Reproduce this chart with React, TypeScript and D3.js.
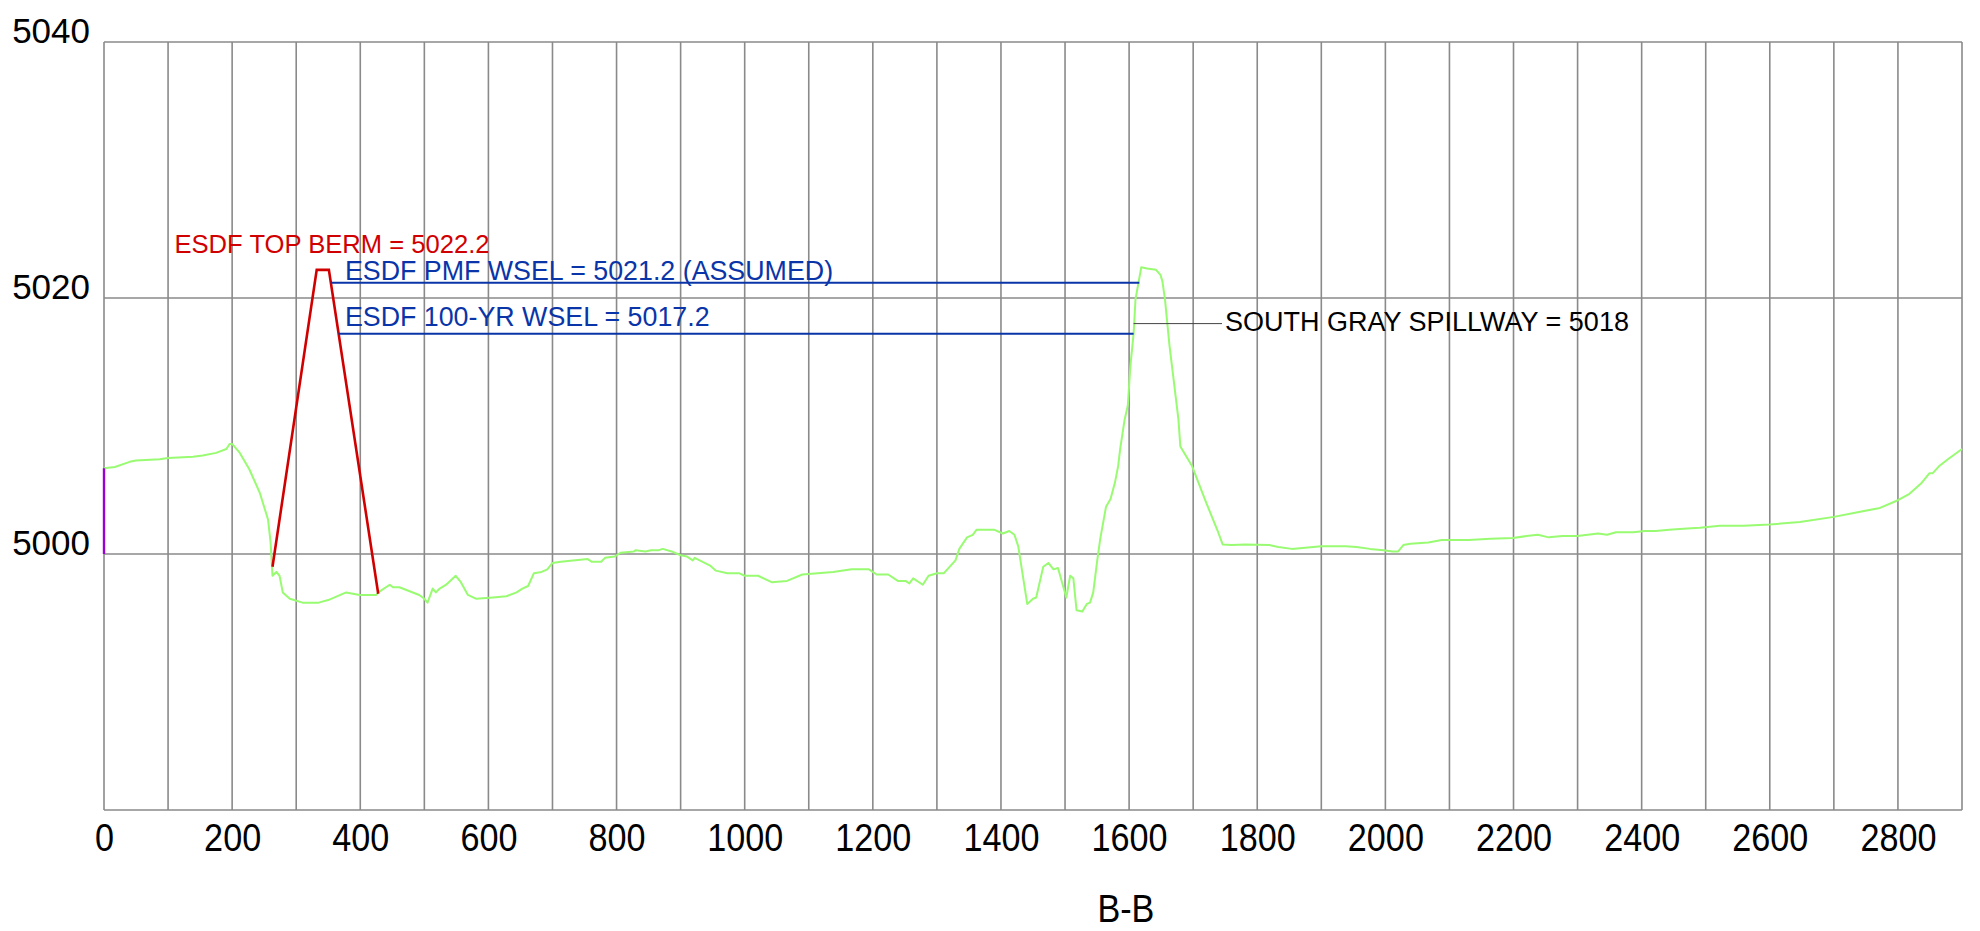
import React, { useEffect, useRef } from 'react';
import * as d3 from 'd3';

// ground profile along section B-B (station, elevation)
const stations = [
	0, 17, 40, 50, 87, 100, 139, 154, 175, 191, 196, 200, 212, 227, 243, 256, 260, 263, 269, 274,
	279, 290, 310, 335, 350, 378, 399, 425, 428, 446, 451, 461, 492, 500, 505, 513, 518, 524, 534, 549,
	557, 568, 581, 607, 628, 644, 653, 662, 671, 683, 692, 700, 713, 755, 761, 776, 782, 797, 806, 827,
	830, 845, 854, 866, 872, 886, 900, 910, 919, 922, 946, 955, 973, 991, 1000, 1021, 1042, 1066, 1090, 1114,
	1138, 1167, 1194, 1206, 1224, 1239, 1251, 1257, 1263, 1278, 1287, 1300, 1311, 1329, 1335, 1347, 1356, 1362, 1389, 1403,
	1413, 1421, 1427, 1441, 1450, 1455, 1466, 1474, 1482, 1489, 1502, 1508, 1513, 1518, 1527, 1534, 1539, 1544, 1550, 1555,
	1564, 1571, 1578, 1583, 1586, 1593, 1598, 1602, 1607, 1610, 1615, 1619, 1628, 1642, 1649, 1652, 1656, 1663, 1670, 1677,
	1680, 1698, 1718, 1739, 1746, 1760, 1781, 1819, 1833, 1854, 1900, 1938, 1955, 1976, 1997, 2011, 2020, 2028, 2039, 2067,
	2088, 2130, 2164, 2199, 2220, 2238, 2255, 2276, 2300, 2332, 2346, 2360, 2387, 2405, 2422, 2443, 2471, 2491, 2522, 2559,
	2600, 2647, 2700, 2735, 2772, 2800, 2818, 2836, 2849, 2854, 2865, 2878, 2900,
];
const elevations = [
	5006.7, 5006.8, 5007.2, 5007.3, 5007.4, 5007.5, 5007.6, 5007.7, 5007.9, 5008.2, 5008.6, 5008.6, 5007.9, 5006.6, 5004.8, 5002.7, 5000.9, 4998.3, 4998.6, 4998.3,
	4997.0, 4996.5, 4996.2, 4996.2, 4996.4, 4997.0, 4996.8, 4996.8, 4997.0, 4997.6, 4997.4, 4997.4, 4996.8, 4996.5, 4996.2, 4997.3, 4997.0, 4997.3, 4997.6, 4998.3,
	4997.8, 4996.8, 4996.5, 4996.6, 4996.7, 4997.0, 4997.3, 4997.5, 4998.5, 4998.6, 4998.8, 4999.3, 4999.4, 4999.6, 4999.4, 4999.4, 4999.7, 4999.8, 5000.1, 5000.2,
	5000.3, 5000.2, 5000.3, 5000.3, 5000.4, 5000.2, 4999.9, 4999.8, 4999.5, 4999.7, 4999.1, 4998.7, 4998.5, 4998.5, 4998.3, 4998.3, 4997.8, 4997.9, 4998.4, 4998.5,
	4998.6, 4998.8, 4998.8, 4998.4, 4998.4, 4997.9, 4997.9, 4997.7, 4998.1, 4997.6, 4998.3, 4998.5, 4998.5, 4999.5, 5000.4, 5001.3, 5001.5, 5001.9, 5001.9, 5001.6,
	5001.8, 5001.5, 5000.6, 4996.1, 4996.5, 4996.6, 4999.0, 4999.3, 4998.8, 4998.9, 4996.6, 4998.3, 4998.1, 4995.6, 4995.5, 4996.1, 4996.2, 4997.0, 4999.4, 5001.2,
	5003.7, 5004.3, 5005.6, 5006.9, 5008.2, 5010.5, 5011.6, 5014.7, 5017.2, 5019.9, 5021.3, 5022.4, 5022.3, 5022.2, 5021.8, 5021.3, 5019.9, 5016.3, 5013.4, 5010.5,
	5008.4, 5006.9, 5004.3, 5001.7, 5000.75, 5000.7, 5000.75, 5000.7, 5000.55, 5000.4, 5000.6, 5000.6, 5000.55, 5000.4, 5000.3, 5000.2, 5000.2, 5000.7, 5000.8, 5000.9,
	5001.1, 5001.1, 5001.2, 5001.25, 5001.4, 5001.5, 5001.3, 5001.4, 5001.4, 5001.6, 5001.5, 5001.7, 5001.7, 5001.8, 5001.8, 5001.9, 5002.0, 5002.05, 5002.2, 5002.2,
	5002.3, 5002.5, 5002.9, 5003.25, 5003.6, 5004.2, 5004.7, 5005.5, 5006.3, 5006.3, 5006.9, 5007.4, 5008.2,
];

// ESDF berm outline
const bermStations = [263, 332, 351, 428];
const bermElevations = [4999.0, 5022.2, 5022.2, 4996.9];

// water surface lines
const wselLabels = ['ESDF PMF WSEL = 5021.2 (ASSUMED)', 'ESDF 100-YR WSEL = 5017.2'];
const wselValues = [5021.2, 5017.2];
const wselFrom = [354, 366];
const wselTo = [1616, 1607];

const bermLabel = 'ESDF TOP BERM = 5022.2';
const spillwayLabel = 'SOUTH GRAY SPILLWAY = 5018';
const spillwayValue = 5018;
const spillwayFrom = 1607;
const spillwayTo = 1745;

// left edge marker
const edgeElevations = [5000, 5006.7];

const xTickValues = [0, 200, 400, 600, 800, 1000, 1200, 1400, 1600, 1800, 2000, 2200, 2400, 2600, 2800];
const yTickValues = [5000, 5020, 5040];
const xTitle = 'B-B';

const App = () => {
	const d3Container = useRef(null);

	const width = 1980;
	const height = 931;

	useEffect(() => {
		if (!d3Container.current) return;
		const svg = d3.select(d3Container.current);
		svg.selectAll('*').remove();

		const margins = { t: 42, r: 18, b: 121, l: 104 };
		const plotwidth = width - margins.l - margins.r;
		const plotheight = height - margins.t - margins.b;
		const font = '"Liberation Sans", Arial, sans-serif';

		const xScale = d3.scaleLinear().domain([0, 2900]).range([margins.l, margins.l + plotwidth]);
		const yScale = d3.scaleLinear().domain([4980, 5040]).range([margins.t + plotheight, margins.t]);

		// grid
		const grid = svg.append('g').attr('stroke', '#8a8a8a').attr('stroke-width', 1.6);
		grid.selectAll('.vgrid')
			.data(xScale.ticks(29))
			.join('line')
			.attr('x1', d => xScale(d))
			.attr('x2', d => xScale(d))
			.attr('y1', yScale(4980))
			.attr('y2', yScale(5040));
		grid.selectAll('.hgrid')
			.data(yScale.ticks(3))
			.join('line')
			.attr('x1', xScale(0))
			.attr('x2', xScale(2900))
			.attr('y1', d => yScale(d))
			.attr('y2', d => yScale(d));

		// axes (labels only)
		const xaxis = svg.append('g')
			.attr('transform', `translate(0, ${margins.t + plotheight})`)
			.call(d3.axisBottom(xScale).tickValues(xTickValues).tickSize(0).tickFormat(d3.format('d')));
		xaxis.select('.domain').remove();
		xaxis.selectAll('text')
			.attr('y', 41)
			.attr('dy', 0)
			.attr('transform', 'scale(0.9,1)')
			.attr('fill', '#000')
			.style('font-family', font)
			.style('font-size', '38px');

		const yaxis = svg.append('g')
			.attr('transform', `translate(${margins.l}, 0)`)
			.call(d3.axisLeft(yScale).tickValues(yTickValues).tickSize(0).tickFormat(d3.format('d')));
		yaxis.select('.domain').remove();
		yaxis.selectAll('text')
			.attr('x', -14)
			.attr('dy', 0)
			.attr('fill', '#000')
			.style('font-family', font)
			.style('font-size', '35px');

		svg.append('text')
			.attr('transform', `translate(${margins.l + plotwidth * 0.55}, ${height - 9}) scale(0.9,1)`)
			.attr('text-anchor', 'middle')
			.style('font-family', font)
			.style('font-size', '38px')
			.text(xTitle);

		const line = d3.line()
			.x(d => xScale(d[0]))
			.y(d => yScale(d[1]));

		// ground
		svg.append('path')
			.datum(d3.zip(stations, elevations))
			.attr('d', line)
			.attr('fill', 'none')
			.attr('stroke', '#99fb72')
			.attr('stroke-width', 2)
			.attr('stroke-linejoin', 'round');

		// berm
		svg.append('path')
			.datum(d3.zip(bermStations, bermElevations))
			.attr('d', line)
			.attr('fill', 'none')
			.attr('stroke', '#d10000')
			.attr('stroke-width', 2.6);

		// WSEL lines
		svg.selectAll('.wsel')
			.data(wselValues)
			.join('line')
			.attr('class', 'wsel')
			.attr('x1', (d, i) => xScale(wselFrom[i]))
			.attr('x2', (d, i) => xScale(wselTo[i]))
			.attr('y1', d => yScale(d))
			.attr('y2', d => yScale(d))
			.attr('stroke', '#0a35a8')
			.attr('stroke-width', 2);

		svg.selectAll('.wsel-label')
			.data(wselLabels)
			.join('text')
			.attr('class', 'wsel-label')
			.attr('x', xScale(376))
			.attr('y', (d, i) => yScale(wselValues[i]) - (i == 0 ? 3 : 8))
			.attr('fill', '#0a35a8')
			.style('font-family', font)
			.style('font-size', '26.8px')
			.text(d => d);

		svg.append('text')
			.attr('x', xScale(110))
			.attr('y', yScale(5023.5))
			.attr('fill', '#d10000')
			.style('font-family', font)
			.style('font-size', '25.6px')
			.text(bermLabel);

		// spillway leader + label
		svg.append('line')
			.attr('x1', xScale(spillwayFrom))
			.attr('x2', xScale(spillwayTo))
			.attr('y1', yScale(spillwayValue))
			.attr('y2', yScale(spillwayValue))
			.attr('stroke', '#444')
			.attr('stroke-width', 1);
		svg.append('text')
			.attr('x', xScale(spillwayTo) + 3)
			.attr('y', yScale(spillwayValue) + 7)
			.attr('fill', '#000')
			.style('font-family', font)
			.style('font-size', '27px')
			.text(spillwayLabel);

		// left edge marker
		svg.append('path')
			.datum(edgeElevations.map(v => [0, v]))
			.attr('d', line)
			.attr('stroke', '#9a00d0')
			.attr('stroke-width', 2.4);
	}, []);

	return (
		<svg
			ref={d3Container}
			width={width}
			height={height}
			style={{ position: 'absolute', left: 0, top: 0, background: '#fff' }}
		/>
	);
};

export default App;
